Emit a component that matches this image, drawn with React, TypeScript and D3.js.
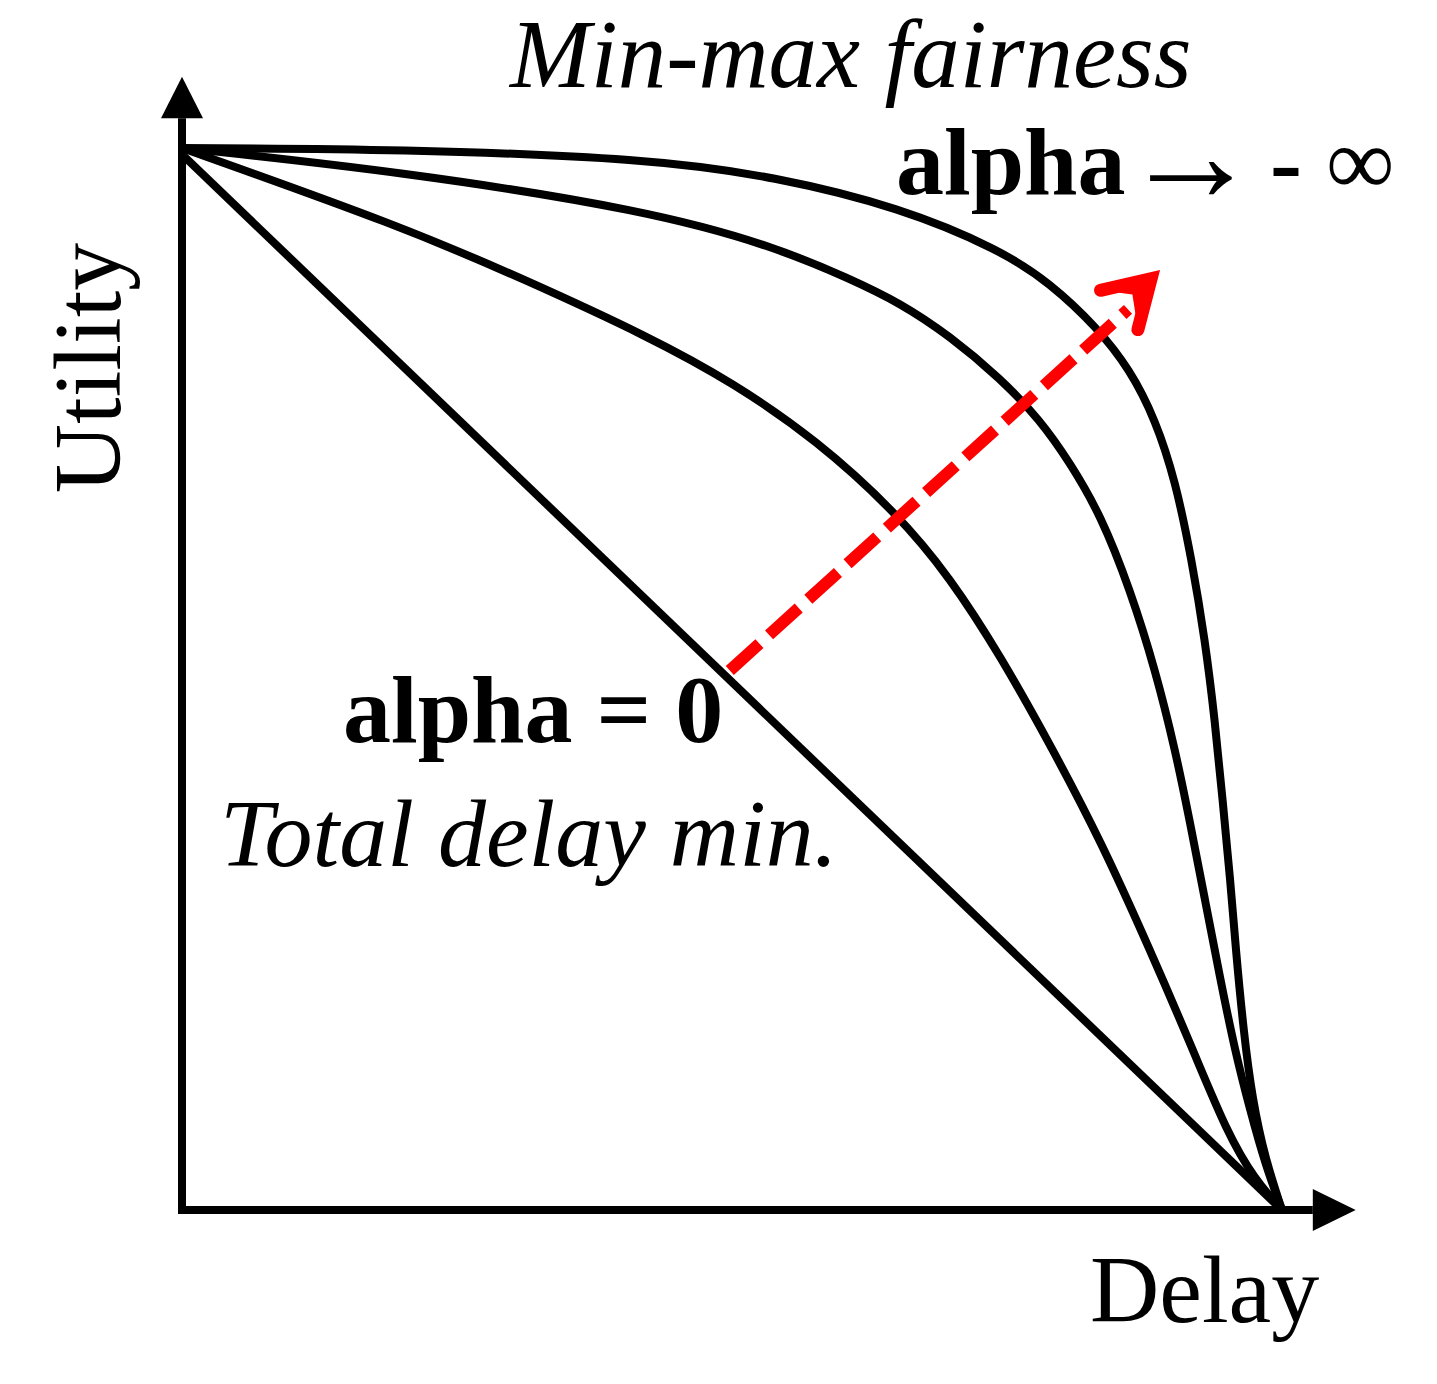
import React from "react";
import { scaleLinear, line, curveBasis } from "d3";

// curves, delay (0..1) vs utility (0..1)
const minMaxCurve: [number, number][] = [
  [0, 1], [0.198, 0.999], [0.425, 0.99], [0.539, 0.973], [0.653, 0.944],
  [0.744, 0.904], [0.789, 0.873], [0.832, 0.831], [0.862, 0.791], [0.885, 0.744],
  [0.903, 0.687], [0.918, 0.612], [0.93, 0.537], [0.939, 0.461], [0.946, 0.386],
  [0.953, 0.311], [0.958, 0.245], [0.965, 0.169], [0.973, 0.104], [0.985, 0.047],
  [1, 0],
];
const middleCurve: [number, number][] = [
  [0, 1], [0.198, 0.978], [0.425, 0.941], [0.539, 0.907], [0.607, 0.877],
  [0.653, 0.854], [0.698, 0.823], [0.744, 0.783], [0.78, 0.744], [0.807, 0.704],
  [0.835, 0.655], [0.862, 0.584], [0.885, 0.508], [0.903, 0.433], [0.916, 0.367],
  [0.93, 0.292], [0.944, 0.217], [0.957, 0.151], [0.971, 0.094], [0.985, 0.042],
  [1, 0],
];
const innerCurve: [number, number][] = [
  [0, 1], [0.198, 0.927], [0.312, 0.876], [0.425, 0.822], [0.501, 0.779],
  [0.577, 0.725], [0.65, 0.656], [0.698, 0.596], [0.744, 0.522], [0.792, 0.433],
  [0.835, 0.348], [0.88, 0.245], [0.919, 0.151], [0.95, 0.073], [0.975, 0.029],
  [1, 0],
];
const totalDelayLine: [number, number][] = [[0, 0.994], [1, 0]];

// red direction arrow
const arrowStart: [number, number] = [0.498, 0.508];
const arrowDashEnd: [number, number] = [0.86, 0.848];
const arrowVertex: [number, number] = [0.881, 0.877];
const arrowArmA: [number, number] = [0.835, 0.866];
const arrowArmB: [number, number] = [0.869, 0.829];
const arrowNotch: [number, number] = [0.864, 0.862];

const axisEnd = 1.028;
const axisTip = 1.067;

const W = 1437;
const H = 1384;

const x = scaleLinear().domain([0, 1]).range([182, 1282]);
const y = scaleLinear().domain([0, 1]).range([1210, 148]);

const curve = line<[number, number]>()
  .x((d) => x(d[0]))
  .y((d) => y(d[1]))
  .curve(curveBasis);

const straight = line<[number, number]>()
  .x((d) => x(d[0]))
  .y((d) => y(d[1]));

const FONT = "'Liberation Serif', 'Times New Roman', serif";

export default function App() {
  const x0 = x(0);
  const y0 = y(0);
  const aw = 21;

  return (
    <svg
      width={W}
      height={H}
      style={{ position: "absolute", left: 0, top: 0, background: "#fff" }}
    >
      {/* axes */}
      <path
        d={`M${x0},${y(axisEnd)} V${y0} H${x(axisEnd)}`}
        fill="none"
        stroke="#000"
        strokeWidth={8}
        strokeLinejoin="miter"
      />
      <path
        d={`M${x0},${y(axisTip)} L${x0 - aw},${y(axisEnd)} L${x0 + aw},${y(axisEnd)} Z`}
        fill="#000"
      />
      <path
        d={`M${x(axisTip)},${y0} L${x(axisEnd)},${y0 - aw} L${x(axisEnd)},${y0 + aw} Z`}
        fill="#000"
      />

      {/* curves */}
      {[minMaxCurve, middleCurve, innerCurve].map((c, i) => (
        <path key={i} d={curve(c) || ""} fill="none" stroke="#000" strokeWidth={8} />
      ))}
      <path d={straight(totalDelayLine) || ""} fill="none" stroke="#000" strokeWidth={8} />

      {/* red dashed arrow */}
      <path
        d={straight([arrowStart, arrowDashEnd]) || ""}
        fill="none"
        stroke="#ff0000"
        strokeWidth={12}
        strokeDasharray="40 13"
      />
      <path
        d={(straight([arrowArmA, arrowVertex, arrowArmB, arrowNotch]) || "") + "Z"}
        fill="#ff0000"
        stroke="none"
      />
      <path
        d={straight([arrowArmA, arrowVertex, arrowArmB]) || ""}
        fill="none"
        stroke="#ff0000"
        strokeWidth={13}
        strokeLinecap="round"
        strokeLinejoin="miter"
      />

      {/* labels */}
      <text x={510} y={87} fontFamily={FONT} fontSize={97} fontStyle="italic">
        Min-max fairness
      </text>
      <text fontFamily={FONT} fontSize={96}>
        <tspan x={896} y={194} fontWeight="bold">alpha</tspan>
        <tspan x={1122} y={201} fontSize={138}>→</tspan>
        <tspan x={1270} y={194} fontWeight="bold">-</tspan>
        <tspan x={1326} y={194}>∞</tspan>
      </text>
      <text x={343} y={742} fontFamily={FONT} fontSize={96} fontWeight="bold">
        alpha = 0
      </text>
      <text x={220} y={866} fontFamily={FONT} fontSize={96} fontStyle="italic">
        Total delay min.
      </text>
      <text
        transform="translate(120,368) rotate(-90)"
        textAnchor="middle"
        fontFamily={FONT}
        fontSize={96}
      >
        Utility
      </text>
      <text x={1090} y={1322} fontFamily={FONT} fontSize={96}>
        Delay
      </text>
    </svg>
  );
}
